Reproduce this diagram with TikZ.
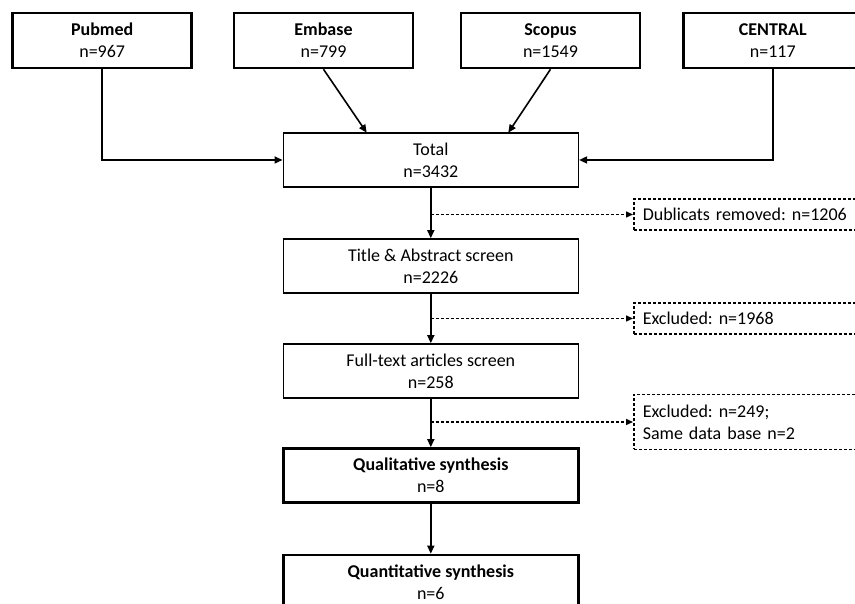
\documentclass[tikz,border=0pt]{standalone}
\usepackage{fontspec}
\setmainfont{Carlito}
\usetikzlibrary{arrows.meta}
\frenchspacing
\begin{document}
\begin{tikzpicture}[x=1pt,y=1pt,
  base/.style={draw, align=center, font=\fontsize{18}{22}\selectfont, inner sep=0pt},
  srcbox/.style={base, line width=2.6pt, minimum width=179pt, minimum height=55pt},
  stepbox/.style={base, line width=1.6pt, minimum width=295pt, minimum height=54pt},
  boldbox/.style={base, line width=2.6pt, minimum width=295pt, minimum height=54pt},
  exclbox/.style={draw, dash pattern=on 3pt off 2pt, line width=1.5pt, anchor=west,
     align=left, text width=220pt, inner xsep=9pt, inner ysep=0pt,
     font=\fontsize{18}{22}\selectfont},
  conn/.style={line width=1.6pt, -{Triangle[length=8pt,width=7pt]}},
  dconn/.style={line width=1.4pt, dash pattern=on 3pt off 2pt, -{Triangle[length=7pt,width=6pt]}},
]
\clip (0,0) rectangle (855,604);
\fill[white] (0,0) rectangle (855,604);

\node[srcbox] (pub) at (102.2,563.5) {\textbf{Pubmed}\\n=967};
\node[srcbox] (emb) at (323.5,563.5) {\textbf{Embase}\\n=799};
\node[srcbox] (sco) at (550.5,563.5) {\textbf{Scopus}\\n=1549};
\node[srcbox] (cen) at (772.8,563.5) {\textbf{CENTRAL}\\n=117};

\node[stepbox] (tot) at (430.8,444) {Total\\n=3432};
\node[stepbox] (tit) at (430.8,338) {Title \& Abstract screen\\n=2226};
\node[stepbox] (ful) at (430.8,233) {Full-text articles screen\\n=258};
\node[boldbox] (qua) at (430.8,128.5) {\textbf{Qualitative synthesis}\\n=8};
\node[boldbox] (qnt) at (430.8,22) {\textbf{Quantitative synthesis}\\n=6};

\node[exclbox, minimum height=31pt] (d1) at (633,389.5) {Dublicats removed: n=1206};
\node[exclbox, minimum height=31pt] (d2) at (633,285.5) {Excluded: n=1968};
\node[exclbox, minimum height=55pt] (d3) at (633,182) {Excluded: n=249;\\Same data base n=2};

\coordinate (embend) at (366.7,471.3);
\coordinate (scoend) at (508.3,471.3);
\draw[conn] (pub.south) |- (tot.west);
\draw[conn] (cen.south) |- (tot.east);
\draw[conn] (emb.south) -- (embend);
\draw[conn] (sco.south) -- (scoend);

\draw[conn] (tot) -- (tit);
\draw[conn] (tit) -- (ful);
\draw[conn] (ful) -- (qua);
\draw[conn] (qua) -- (qnt);

\draw[dconn] (tot.south |- d1.west) -- (d1.west);
\draw[dconn] (tit.south |- d2.west) -- (d2.west);
\draw[dconn] (ful.south |- d3.west) -- (d3.west);
\end{tikzpicture}
\end{document}
